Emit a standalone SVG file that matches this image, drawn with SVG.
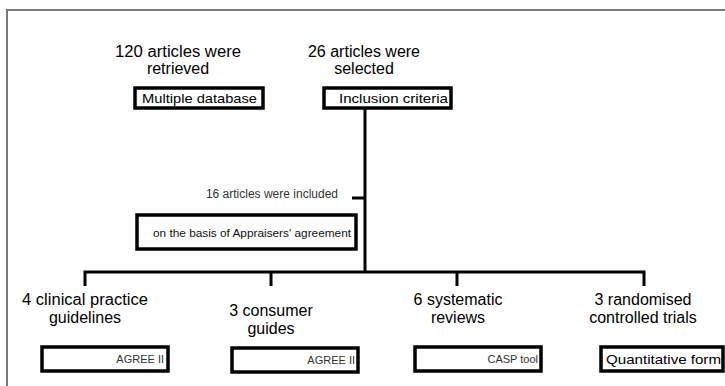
<svg xmlns="http://www.w3.org/2000/svg" width="725" height="386" viewBox="0 0 725 386">
<style>
text{font-family:"Liberation Sans",Arial,sans-serif;fill:#000}
.hd{font-size:16px;text-anchor:middle}
.bt{font-size:16px;text-anchor:middle}
.bx{fill:#fff;stroke:#000;stroke-width:3.5}
.bl{font-size:13px}
.sm{font-size:11px;fill:#333}
.ln{stroke:#000;stroke-width:3;fill:none}
</style>
<rect width="725" height="386" fill="#fff"/>
<g id="frame"><path d="M7 386V10H725" fill="none" stroke="#7a7a7a" stroke-width="2"/></g>
<g id="connectors">
<path class="ln" d="M365 108V272M352 198H365M85 286V272H644V286M271 272V286M457 272V286"/>
</g>
<g id="n-retrieved">
<text class="hd" x="178" y="57" textLength="126" lengthAdjust="spacingAndGlyphs">120 articles were</text>
<text class="hd" x="178" y="74">retrieved</text>
</g>
<g id="n-database">
<rect class="bx" x="135" y="88" width="128" height="20"/>
<text class="bl" x="142" y="103" textLength="115" lengthAdjust="spacingAndGlyphs">Multiple database</text>
</g>
<g id="n-selected">
<text class="hd" x="364" y="57">26 articles were</text>
<text class="hd" x="364" y="74">selected</text>
</g>
<g id="n-inclusion">
<rect class="bx" x="324" y="88" width="127" height="20"/>
<text class="bl" x="339" y="103" textLength="109" lengthAdjust="spacingAndGlyphs">Inclusion criteria</text>
</g>
<g id="n-included">
<text x="338" y="198" text-anchor="end" style="font-size:12px;fill:#333">16 articles were included</text>
</g>
<g id="n-appraisers">
<rect class="bx" x="137" y="215" width="219" height="34"/>
<text x="153" y="237" style="font-size:11px;fill:#111" textLength="198" lengthAdjust="spacingAndGlyphs">on the basis of Appraisers' agreement</text>
</g>
<g id="n-cpg">
<text class="bt" x="85" y="305" textLength="126" lengthAdjust="spacingAndGlyphs">4 clinical practice</text>
<text class="bt" x="85" y="323">guidelines</text>
</g>
<g id="n-cpg-tool">
<rect class="bx" x="42" y="347" width="126" height="24"/>
<text class="sm" x="164" y="363" text-anchor="end">AGREE  II</text>
</g>
<g id="n-consumer">
<text class="bt" x="271" y="316">3 consumer</text>
<text class="bt" x="271" y="334">guides</text>
</g>
<g id="n-consumer-tool">
<rect class="bx" x="232" y="348" width="126" height="24"/>
<text class="sm" x="355" y="364" text-anchor="end">AGREE II</text>
</g>
<g id="n-systematic">
<text class="bt" x="458" y="305">6 systematic</text>
<text class="bt" x="458" y="323">reviews</text>
</g>
<g id="n-systematic-tool">
<rect class="bx" x="415" y="347" width="126" height="24"/>
<text class="sm" x="538" y="363" text-anchor="end">CASP tool</text>
</g>
<g id="n-rct">
<text class="bt" x="643" y="305">3 randomised</text>
<text class="bt" x="643" y="323">controlled trials</text>
</g>
<g id="n-rct-tool">
<rect class="bx" x="601" y="347" width="122" height="24"/>
<text class="bl" x="606" y="364" textLength="115" lengthAdjust="spacingAndGlyphs">Quantitative form</text>
</g>
</svg>
